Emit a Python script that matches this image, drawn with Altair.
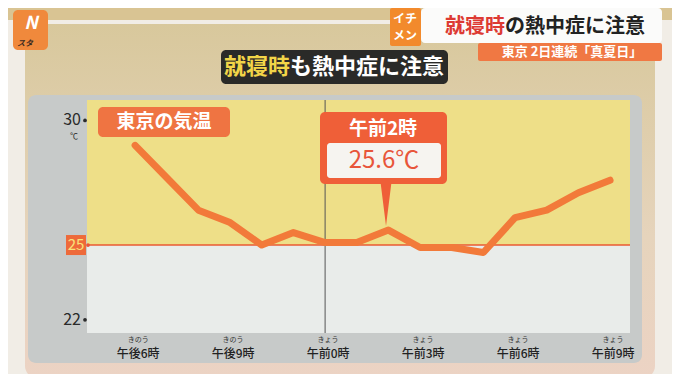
import altair as alt
import pandas as pd

# ---- data ----
hour_offsets = list(range(16))  # hours after 18:00 (yesterday)
temps = [29.0, 27.7, 26.4, 25.9, 25.0, 25.5, 25.1, 25.1, 25.6, 24.9, 24.9, 24.7, 26.1, 26.4, 27.1, 27.6]
tick_offsets = [0, 3, 6, 9, 12, 15]
tick_ruby = ["きのう", "きのう", "きょう", "きょう", "きょう", "きょう"]
tick_labels = ["午後6時", "午後9時", "午前0時", "午前3時", "午前6時", "午前9時"]
y_ticks = [30, 22]
threshold = 25
midnight = 6
peak_time = "午前2時"
peak_value = "25.6℃"

FONT = "Noto Sans CJK JP"
W, H = 543, 233
OX, OY = 87, 100  # page position of plot origin
X_DOMAIN = [-1.52, 15.63]
Y_DOMAIN = [21.47, 30.82]
xs = alt.Scale(domain=X_DOMAIN, nice=False, zero=False)
ys = alt.Scale(domain=Y_DOMAIN, nice=False, zero=False)
one = alt.Data(values=[{"a": 1}])


def rect(x1, y1, x2, y2, fill, r=0):
    return alt.Chart(one).mark_rect(color=fill, cornerRadius=r).encode(
        x=alt.value(x1 - OX), x2=alt.value(x2 - OX),
        y=alt.value(y1 - OY), y2=alt.value(y2 - OY))


def label(x, y, txt, size, color, weight="bold", align="center", style="normal"):
    return alt.Chart(one).mark_text(
        text=txt, fontSize=size, color=color, fontWeight=weight, align=align,
        baseline="middle", font=FONT, fontStyle=style).encode(
        x=alt.value(x - OX), y=alt.value(y - OY))


board_grad = alt.Gradient(
    gradient="linear", x1=0, x2=0, y1=0, y2=1,
    stops=[alt.GradientStop(color="#d8c89c", offset=0),
           alt.GradientStop(color="#e6d4bc", offset=0.6),
           alt.GradientStop(color="#ecd3c4", offset=1)])

layers = []
# background pieces
layers.append(rect(8, 8, 672, 20, "#d9c493"))
layers.append(rect(25, 24, 655, 378, board_grad, 12))
# logo
layers.append(rect(13, 10, 48, 50, "#f0893c", 5))
layers.append(label(31, 24, "N", 18, "#ffffff", "bold", style="italic"))
layers.append(label(25, 44, "スタ", 8, "#3a2a20", "bold", style="italic"))
# top-right captions
layers.append(rect(390, 8, 421, 46, "#f28a2c", 2))
layers.append(label(405, 19, "イチ", 12, "#ffffff"))
layers.append(label(405, 36, "メン", 12, "#ffffff"))
layers.append(rect(421, 8, 662, 43, "#fbfbfa", 4))
layers.append(label(445, 27, "就寝時", 20, "#dd3a33", align="left"))
layers.append(label(505, 27, "の熱中症に注意", 20, "#222222", align="left"))
layers.append(rect(478, 43, 662, 61, "#f07843", 2))
layers.append(label(572, 52, "東京 2日連続「真夏日」", 13, "#ffffff"))
# chart title box
layers.append(rect(221, 50, 448, 84, "#2a2a28", 5))
layers.append(label(224, 67, "就寝時", 22, "#f2d548", align="left"))
layers.append(label(290, 67, "も熱中症に注意", 22, "#ffffff", align="left"))
# gray frame
layers.append(rect(28, 95, 642, 363, "#c7cac9", 8))

# plot zones (through the y scale)
zone_df = pd.DataFrame({"lo": [threshold, Y_DOMAIN[0]], "hi": [Y_DOMAIN[1], threshold],
                        "zone": ["hot", "cool"]})
zones = alt.Chart(zone_df).mark_rect().encode(
    x=alt.value(0), x2=alt.value(W),
    y=alt.Y("lo:Q", scale=ys, axis=None), y2="hi:Q",
    color=alt.Color("zone:N", scale=alt.Scale(domain=["hot", "cool"], range=["#eedf88", "#e9ecea"]), legend=None))
layers.append(zones)

thr_df = pd.DataFrame({"t": [threshold]})
layers.append(alt.Chart(thr_df).mark_rule(color="#ea5a32", strokeWidth=1.5).encode(
    x=alt.value(0), x2=alt.value(W), y=alt.Y("t:Q", scale=ys, axis=None)))

mid_df = pd.DataFrame({"h": [midnight]})
layers.append(alt.Chart(mid_df).mark_rule(color="#555555", strokeWidth=1).encode(
    x=alt.X("h:Q", scale=xs, axis=None), y=alt.value(0), y2=alt.value(H)))

df = pd.DataFrame({"h": hour_offsets, "t": temps})
layers.append(alt.Chart(df).mark_line(color="#f27a3a", strokeWidth=7, strokeCap="round", strokeJoin="round").encode(
    x=alt.X("h:Q", scale=xs, axis=None), y=alt.Y("t:Q", scale=ys, axis=None)))

# series label
layers.append(rect(98, 107, 230, 137, "#ef7442", 5))
layers.append(label(164, 122, "東京の気温", 19, "#ffffff"))

# callout
layers.append(alt.Chart(one).mark_point(
    shape="M-0.25,-1L0.25,-1L0,1Z", size=1936, filled=True, color="#ef5f38", opacity=1, strokeWidth=0).encode(
    x=alt.value(386 - OX), y=alt.value(204 - OY)))
layers.append(rect(320, 112, 447, 184, "#ef5f38", 5))
layers.append(label(383, 129, peak_time, 19, "#ffffff"))
layers.append(rect(327, 143, 441, 178, "#f6f4f0", 3))
layers.append(label(384, 161, peak_value, 24, "#e8553a", "normal"))

# y labels
yt_df = pd.DataFrame({"t": y_ticks})
layers.append(alt.Chart(yt_df).mark_text(align="right", baseline="middle", fontSize=16, color="#2a2a2a", font=FONT).encode(
    x=alt.value(81 - OX), y=alt.Y("t:Q", scale=ys, axis=None), text=alt.Text("t:Q")))
layers.append(alt.Chart(yt_df).mark_circle(size=14, color="#2a2a2a", opacity=1).encode(
    x=alt.value(85 - OX), y=alt.Y("t:Q", scale=ys, axis=None)))
unit_df = pd.DataFrame({"t": [30]})
layers.append(alt.Chart(unit_df).mark_text(text="℃", align="center", baseline="middle", fontSize=8, color="#2a2a2a", font=FONT, dy=17).encode(
    x=alt.value(74 - OX), y=alt.Y("t:Q", scale=ys, axis=None)))
layers.append(alt.Chart(thr_df).mark_point(shape="square", size=400, filled=True, color="#ee6a3a", opacity=1, strokeWidth=0).encode(
    x=alt.value(76 - OX), y=alt.Y("t:Q", scale=ys, axis=None)))
layers.append(alt.Chart(thr_df).mark_text(align="center", baseline="middle", fontSize=15, color="#f8e27a", font=FONT).encode(
    x=alt.value(76 - OX), y=alt.Y("t:Q", scale=ys, axis=None), text=alt.Text("t:Q")))
layers.append(alt.Chart(thr_df).mark_circle(size=14, color="#e8553a", opacity=1).encode(
    x=alt.value(1), y=alt.Y("t:Q", scale=ys, axis=None)))

# x labels
xt_df = pd.DataFrame({"h": tick_offsets, "ruby": tick_ruby, "lab": tick_labels})
layers.append(alt.Chart(xt_df).mark_text(baseline="middle", fontSize=12, fontWeight=500, color="#222222", font=FONT, dx=3).encode(
    x=alt.X("h:Q", scale=xs, axis=None), y=alt.value(354 - OY), text="lab:N"))
layers.append(alt.Chart(xt_df).mark_text(baseline="middle", fontSize=7, color="#333333", font=FONT, dx=3).encode(
    x=alt.X("h:Q", scale=xs, axis=None), y=alt.value(340 - OY), text="ruby:N"))

chart = alt.layer(*layers).properties(
    width=W, height=H,
    padding={"left": OX - 8, "top": OY - 8, "right": 680 - 16 - (OX - 8) - W, "bottom": 382 - 16 - (OY - 8) - H},
    autosize=alt.AutoSizeParams(type="none"),
    background="#f1ede6",
).configure_view(strokeWidth=0)

chart.save("out.html", embed_options={"renderer": "svg", "actions": False})
